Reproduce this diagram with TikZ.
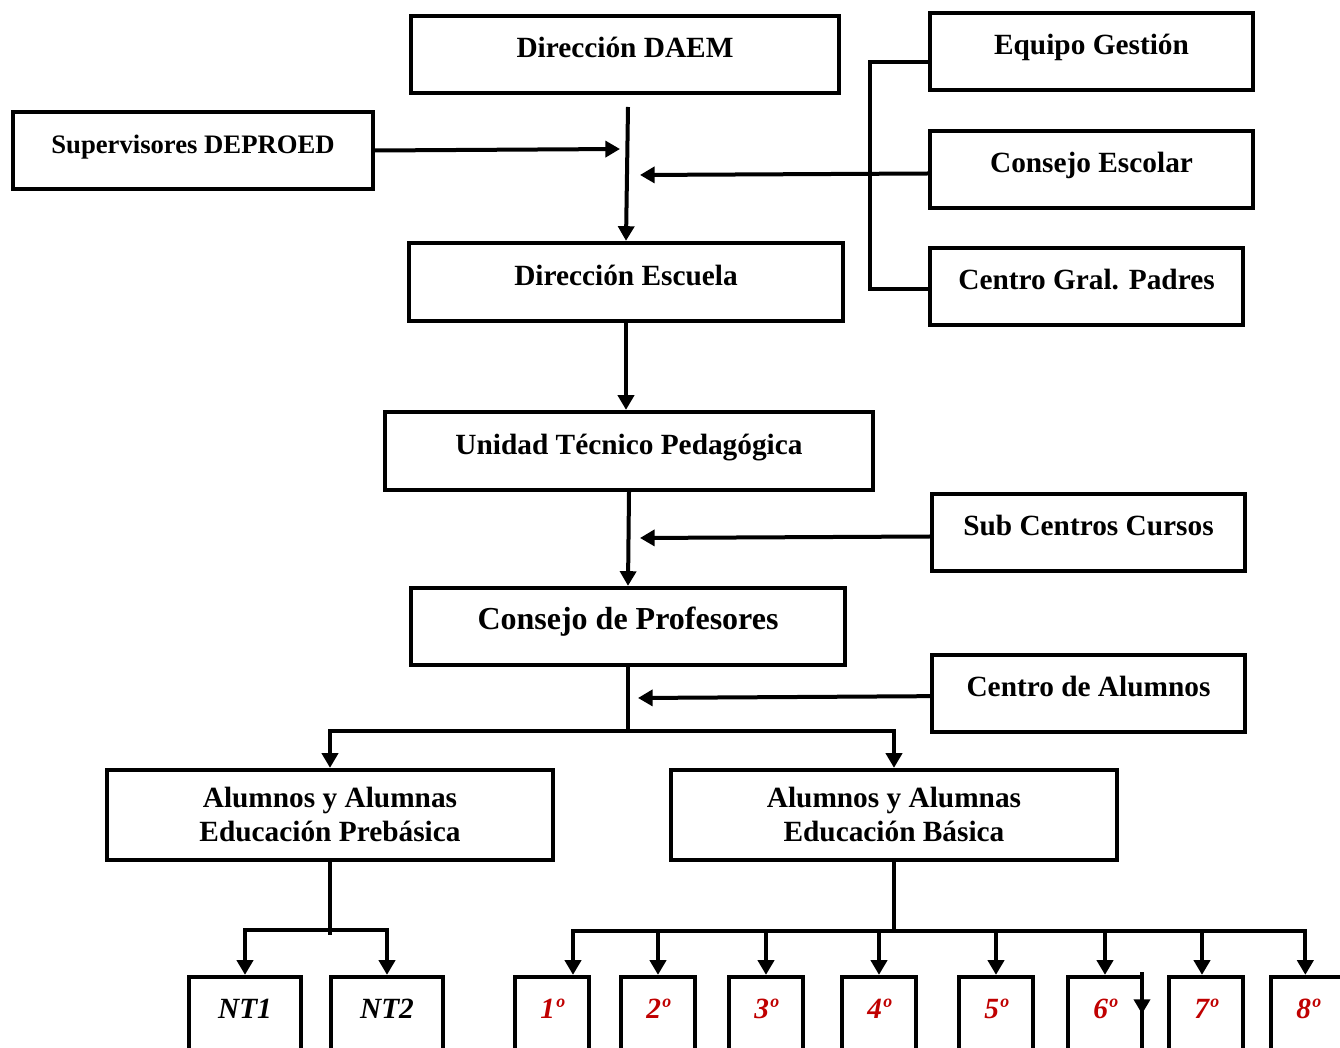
\documentclass[tikz,border=0pt]{standalone}
\usepackage{fontspec}
\setmainfont{Liberation Serif}
\usepackage{tikz}
\usetikzlibrary{arrows.meta,positioning}
\definecolor{gradered}{HTML}{C00000}
\tikzstyle{box}=[draw,rectangle,line width=3.2pt,inner sep=0pt,text height=15pt,text depth=10pt,font=\bfseries\fontsize{22}{26}\selectfont]
\tikzstyle{twoline}=[draw,rectangle,line width=3.2pt,inner sep=0pt,align=center,font=\bfseries\fontsize{22}{25.5}\selectfont]
\tikzstyle{lvlbox}=[draw,rectangle,line width=3.2pt,inner sep=0pt,minimum height=62.25pt,text height=12pt,text depth=12pt,font=\bfseries\itshape\fontsize{22}{26}\selectfont]
\tikzstyle{grade}=[lvlbox,minimum width=55.5pt,text=gradered]
\tikzstyle{conn}=[line width=3pt]

\begin{document}
\begin{tikzpicture}[x=0.75pt,y=-0.75pt,>={Triangle[length=11pt,width=12pt]}]
\clip (0,0) rectangle (1340,1048);
\fill[white] (0,0) rectangle (1340,1048);

\node [box,minimum width=321pt,minimum height=57.75pt] (daem) at (625,54.5) {Dirección DAEM};
\node [box,minimum width=242.25pt,minimum height=57.75pt] (equipo) at (1091.5,51.5) {Equipo Gestión};
\node [box,minimum width=270pt,minimum height=57.75pt,font=\bfseries\fontsize{20}{24}\selectfont] (superv) at (193,150.5) {Supervisores DEPROED};
\node [box,minimum width=242.25pt,minimum height=57.75pt] (cescolar) at (1091.5,169.5) {Consejo Escolar};
\node [box,minimum width=325.5pt,minimum height=58.5pt] (escuela) at (626,282) {Dirección Escuela};
\node [box,minimum width=234.75pt,minimum height=57.75pt] (padres) at (1086.5,286.5) {Centro Gral. Padres};
\node [box,minimum width=366pt,minimum height=58.5pt] (utp) at (629,451) {Unidad Técnico Pedagógica};
\node [box,minimum width=234.75pt,minimum height=57.75pt] (subcentros) at (1088.5,532.5) {Sub Centros Cursos};
\node [box,minimum width=325.5pt,minimum height=57.75pt,font=\bfseries\fontsize{24}{28}\selectfont] (profesores) at (628,626.5) {Consejo de Profesores};
\node [box,minimum width=234.75pt,minimum height=57.75pt] (calumnos) at (1088.5,693.5) {Centro de Alumnos};
\node [twoline,minimum width=334.5pt,minimum height=67.5pt] (prebasica) at (330,815) {Alumnos y Alumnas\\Educación Prebásica};
\node [twoline,minimum width=334.5pt,minimum height=67.5pt] (basica) at (894,815) {Alumnos y Alumnas\\Educación Básica};
\node [lvlbox,minimum width=84pt] (nt1) at (245,1018.5) {NT1};
\node [lvlbox,minimum width=84pt] (nt2) at (387,1018.5) {NT2};
\foreach \name/\x/\txt in {g1/552/1º,g2/658/2º,g3/766/3º,g4/879/4º,g5/996/5º,g6/1105/6º,g7/1206/7º,g8/1308/8º}
  \node [grade] (\name) at (\x,1018.5) {\txt};

\coordinate (top) at (628,107);
\coordinate (sup) at (620,149);
\coordinate (ce) at (640,175);
\coordinate (sc) at (640,538);
\coordinate (bp) at (628,731);
\coordinate (ca) at (638,698);
\coordinate (hp) at (328,930);
\coordinate (hb) at (894,931);
\coordinate (s6) at (1142,972);
\coordinate (s6b) at (1142,1014);

\draw[conn,->] (top) -- (escuela.north);
\draw[conn,->] (superv.east) -- (sup);
\draw[conn,->] ([yshift=-3pt]cescolar.west) -- (ce);
\draw[conn] ([yshift=-8pt]equipo.west) -- ++(-58,0) |- ([yshift=-2pt]padres.west);
\draw[conn,->] (escuela.south) -- (escuela.south|-utp.north);
\draw[conn,->] (utp.south) -- (profesores.north);
\draw[conn,->] ([yshift=-3pt]subcentros.west) -- (sc);
\draw[conn] (profesores.south) -- (bp);
\draw[conn,->] (bp) -| (prebasica.north);
\draw[conn,->] (bp) -| (basica.north);
\draw[conn,->] ([yshift=-2pt]calumnos.west) -- (ca);
\draw[conn] (prebasica.south) -- ([yshift=-4pt]prebasica.south|-hp);
\draw[conn,<->] (nt1.north) |- (hp) -| (nt2.north);
\draw[conn] (basica.south) -- (hb);
\draw[conn,line cap=rect] ([xshift=15.75pt]g1.north|-hb) -- ([xshift=-2pt]g8.north|-hb);
\foreach \name/\dx in {g1/15.75,g2/0,g3/0,g4/0,g5/0,g6/0,g7/-3,g8/-2}
  \draw[conn,->] ([xshift=\dx pt]\name.north|-hb) -- ([xshift=\dx pt]\name.north);
\draw[conn,->] (s6) -- (s6b);
\end{tikzpicture}
\end{document}
